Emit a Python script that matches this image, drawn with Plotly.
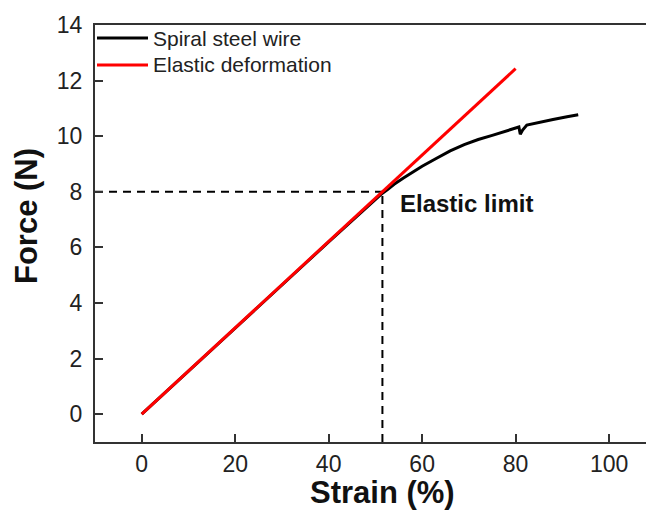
import plotly.graph_objects as go

# Spiral steel wire (strain %, force N)
wire_strain = [0, 5, 10, 15, 20, 25, 30, 35, 40, 45, 50, 51.5, 52.6, 54, 56, 58, 60, 63, 66, 69, 72, 75, 78, 80.3, 80.7, 81.0, 81.5, 82.4, 85, 88, 91, 93.4]
wire_force = [0, 0.77, 1.54, 2.32, 3.1, 3.87, 4.65, 5.42, 6.2, 6.97, 7.75, 7.95, 8.08, 8.27, 8.5, 8.72, 8.92, 9.2, 9.47, 9.7, 9.88, 10.03, 10.18, 10.3, 10.33, 10.07, 10.22, 10.4, 10.5, 10.6, 10.7, 10.77]

# Elastic deformation (linear fit)
elastic_strain = [0, 80]
elastic_force = [0, 12.43]

# Elastic limit guide
limit_strain = 51.5
limit_force = 8.0

series_names = ["Spiral steel wire", "Elastic deformation"]
series_colors = ["black", "#ff0000"]

x_range = [-10, 107.9]
y_range = [-1, 14.0]

x_ticks = [0, 20, 40, 60, 80, 100]
y_ticks = [0, 2, 4, 6, 8, 10, 12, 14]

W, H = 646, 511
ML, MR, MT, MB = 95, 0, 25, 69
PW, PH = W - ML - MR, H - MT - MB


def px_x(p):
    return (p - ML) / PW


def px_y(p):
    return (H - MB - p) / PH


fig = go.Figure()

fig.add_trace(go.Scatter(x=[x_range[0], limit_strain], y=[limit_force, limit_force],
                         mode="lines", line=dict(color="black", width=2, dash="8px,6px"),
                         showlegend=False, hoverinfo="skip"))
fig.add_trace(go.Scatter(x=[limit_strain, limit_strain], y=[y_range[0], limit_force],
                         mode="lines", line=dict(color="black", width=2, dash="8px,6px"),
                         showlegend=False, hoverinfo="skip"))

fig.add_trace(go.Scatter(x=wire_strain, y=wire_force, mode="lines",
                         name=series_names[0], showlegend=False,
                         line=dict(color=series_colors[0], width=3)))
fig.add_trace(go.Scatter(x=elastic_strain, y=elastic_force, mode="lines",
                         name=series_names[1], showlegend=False,
                         line=dict(color=series_colors[1], width=3)))

# legend (drawn manually to match the reference spacing)
for i, (nm, col) in enumerate(zip(series_names, series_colors)):
    yy = px_y(38 + 27 * i)
    fig.add_shape(type="line", xref="paper", yref="paper",
                  x0=px_x(97), x1=px_x(148), y0=yy, y1=yy,
                  line=dict(color=col, width=3))
    fig.add_annotation(x=px_x(151), y=yy, xref="paper", yref="paper", text=nm,
                       showarrow=False, xanchor="left", yanchor="middle",
                       font=dict(size=21, color="#222", family="Liberation Sans, Arial"))

fig.add_annotation(x=54.9, y=7.58, xref="x", yref="y", text="<b>Elastic limit</b>",
                   showarrow=False, xanchor="left", yanchor="middle",
                   font=dict(size=24, color="#111", family="Liberation Sans, Arial"))

fig.add_annotation(x=51.5, y=0, xref="x", yref="paper", yshift=-50, text="<b>Strain (%)</b>",
                   showarrow=False, xanchor="center", yanchor="middle",
                   font=dict(size=31, color="#111", family="Liberation Sans, Arial"))
fig.add_annotation(x=px_x(26), y=px_y(216), xref="paper", yref="paper",
                   text="<b>Force (N)</b>",
                   showarrow=False, textangle=-90, xanchor="center", yanchor="middle",
                   font=dict(size=31, color="#111", family="Liberation Sans, Arial"))

fig.update_layout(
    width=W, height=H,
    margin=dict(l=ML, r=MR, t=MT, b=MB, autoexpand=False),
    paper_bgcolor="white", plot_bgcolor="white",
    font=dict(family="Liberation Sans, Arial", color="#222", size=22),
    showlegend=False,
    xaxis=dict(range=x_range, tickvals=x_ticks, showgrid=False, zeroline=False,
               showline=True, linecolor="#333", linewidth=2, mirror=True,
               ticks="inside", ticklen=8, tickwidth=2, tickcolor="#333", automargin=False,
               ticklabelstandoff=0, tickfont=dict(size=23, color="#222")),
    yaxis=dict(range=y_range, tickvals=y_ticks, showgrid=False, zeroline=False,
               showline=True, linecolor="#333", linewidth=2, automargin=False,
               ticks="inside", ticklen=8, tickwidth=2, tickcolor="#333",
               ticklabelstandoff=6, tickfont=dict(size=23, color="#222")),
)

fig.write_html("out.html", config={"displayModeBar": False},
               post_script="document.body.style.margin='0';document.body.style.overflow='hidden';")
